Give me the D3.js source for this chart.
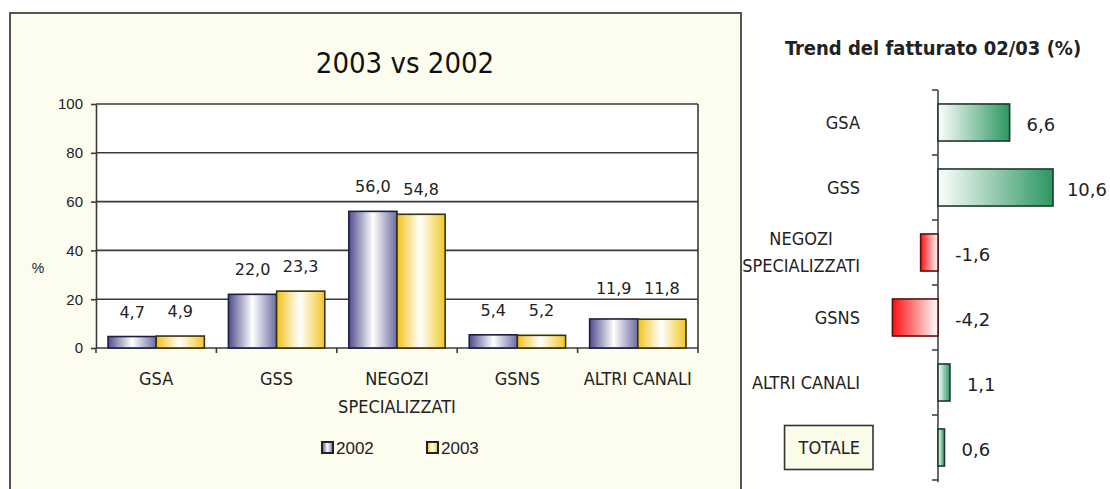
<!DOCTYPE html>
<html>
<head>
<meta charset="utf-8">
<script src="https://cdn.jsdelivr.net/npm/d3@7"></script>
<style>
  html, body { margin: 0; padding: 0; background: #ffffff; }
  svg { display: block; }
</style>
</head>
<body>
<div id="chart"></div>
<script>
// ---- Data
const categories = ['GSA', 'GSS', 'NEGOZI\nSPECIALIZZATI', 'GSNS', 'ALTRI CANALI'];
const years = ['2002', '2003'];
const share2002 = [4.7, 22.0, 56.0, 5.4, 11.9];
const share2003 = [4.9, 23.3, 54.8, 5.2, 11.8];
const yTicks = [0, 20, 40, 60, 80, 100];

const trendCategories = ['GSA', 'GSS', 'NEGOZI\nSPECIALIZZATI', 'GSNS', 'ALTRI CANALI', 'TOTALE'];
const trendValues = [6.6, 10.6, -1.6, -4.2, 1.1, 0.6];

const leftTitle = '2003 vs 2002';
const rightTitle = 'Trend del fatturato 02/03 (%)';

// ---- Fonts
const TAHOMA = "'DejaVu Sans Condensed', 'DejaVu Sans', sans-serif";
const VERDANA = "'DejaVu Sans', sans-serif";
const ARIAL = "'Liberation Sans', Arial, sans-serif";

const fmt = v => v.toFixed(1).replace('.', ',');

const W = 1110, H = 489;
const svg = d3.select('#chart').append('svg')
    .attr('width', W).attr('height', H);

const defs = svg.append('defs');
function hGrad(id, stops) {
    const g = defs.append('linearGradient').attr('id', id)
        .attr('x1', '0%').attr('x2', '100%').attr('y1', '0%').attr('y2', '0%');
    stops.forEach(([o, c]) => g.append('stop').attr('offset', o).attr('stop-color', c));
}
hGrad('g2002', [['0%', '#4e4e8c'], ['50%', '#ffffff'], ['100%', '#6c6ca4']]);
hGrad('g2003', [['0%', '#f2c21e'], ['48%', '#ffffff'], ['100%', '#f2c628']]);
hGrad('gPos', [['0%', '#ffffff'], ['100%', '#2b9660']]);
hGrad('gNeg', [['0%', '#ff1010'], ['100%', '#ffffff']]);

const yearFill = { '2002': 'url(#g2002)', '2003': 'url(#g2003)' };
const yearStroke = { '2002': '#1c1c44', '2003': '#3a3208' };

// ======================= Left panel =======================
svg.append('rect')
    .attr('x', 10).attr('y', 13).attr('width', 731).attr('height', H + 10)
    .attr('fill', '#fdfdef').attr('stroke', '#555').attr('stroke-width', 2);

svg.append('text')
    .attr('x', 405).attr('y', 73)
    .attr('text-anchor', 'middle')
    .style('font-family', TAHOMA).style('font-size', '29px').attr('fill', '#111')
    .text(leftTitle);

const plot = { left: 96, right: 698, top: 104, bottom: 348 };

const x0 = d3.scaleBand().domain(categories).range([plot.left, plot.right]).padding(0);
const x1 = d3.scaleBand().domain(years).range([0, x0.bandwidth()]).paddingInner(0).paddingOuter(0.25);
const y = d3.scaleLinear().domain([0, 100]).range([plot.bottom, plot.top]);

svg.append('rect')
    .attr('x', plot.left).attr('y', plot.top)
    .attr('width', plot.right - plot.left).attr('height', plot.bottom - plot.top)
    .attr('fill', '#ffffff');

// gridlines
const gridValues = yTicks.filter(t => t > 0);
svg.append('g').selectAll('line').data(gridValues).join('line')
    .attr('x1', plot.left).attr('x2', plot.right)
    .attr('y1', d => y(d)).attr('y2', d => y(d))
    .attr('stroke', '#3a3a3a').attr('stroke-width', 1.6);
svg.append('line')
    .attr('x1', plot.right).attr('x2', plot.right)
    .attr('y1', plot.top).attr('y2', plot.bottom)
    .attr('stroke', '#3a3a3a').attr('stroke-width', 1.6);

// y axis
const yAxis = svg.append('g')
    .attr('transform', `translate(${plot.left},0)`)
    .call(d3.axisLeft(y).tickValues(yTicks).tickSize(5).tickSizeOuter(0).tickPadding(8));
yAxis.select('.domain').attr('stroke', '#3a3a3a').attr('stroke-width', 1.6);
yAxis.selectAll('.tick line').attr('stroke', '#3a3a3a').attr('stroke-width', 1.6);
yAxis.selectAll('.tick text')
    .style('font-family', ARIAL).style('font-size', '15px').attr('fill', '#222');

svg.append('text')
    .attr('x', 38).attr('y', 273).attr('text-anchor', 'middle')
    .style('font-family', ARIAL).style('font-size', '14px').attr('fill', '#222')
    .text('%');

// x axis (ticks on category boundaries)
const boundaries = categories.map(c => x0(c)).concat([plot.right]);
svg.append('line')
    .attr('x1', plot.left).attr('x2', plot.right)
    .attr('y1', plot.bottom).attr('y2', plot.bottom)
    .attr('stroke', '#3a3a3a').attr('stroke-width', 1.6);
svg.append('g').selectAll('line').data(boundaries).join('line')
    .attr('x1', d => d).attr('x2', d => d)
    .attr('y1', plot.bottom).attr('y2', plot.bottom + 5)
    .attr('stroke', '#3a3a3a').attr('stroke-width', 1.6);

// bars
const rows = categories.map((c, i) => ({ cat: c, values: [
    { year: '2002', v: share2002[i] },
    { year: '2003', v: share2003[i] }
] }));

const groups = svg.append('g').selectAll('g').data(rows).join('g')
    .attr('transform', d => `translate(${x0(d.cat)},0)`);

groups.selectAll('rect').data(d => d.values).join('rect')
    .attr('x', d => x1(d.year))
    .attr('y', d => y(d.v))
    .attr('width', x1.bandwidth())
    .attr('height', d => plot.bottom - y(d.v))
    .attr('fill', d => yearFill[d.year])
    .attr('stroke', d => yearStroke[d.year])
    .attr('stroke-width', 1.6);

// value label baseline: above the bar, lifted clear of a gridline it would cross
function labelBaseline(v) {
    let b = y(v) - 19;
    gridValues.forEach(g => {
        const gy = y(g);
        if (gy > b - 13 && gy < b + 4) b = gy - 5;
    });
    return b;
}

groups.selectAll('text.val').data(d => d.values).join('text')
    .attr('class', 'val')
    .attr('x', d => x1(d.year) + x1.bandwidth() / 2)
    .attr('y', d => labelBaseline(d.v))
    .attr('text-anchor', 'middle')
    .style('font-family', VERDANA).style('font-size', '16px').attr('fill', '#222')
    .text(d => fmt(d.v));

// category labels
groups.each(function (d) {
    const t = d3.select(this).append('text')
        .attr('text-anchor', 'middle')
        .style('font-family', TAHOMA).style('font-size', '18px').attr('fill', '#222');
    d.cat.split('\n').forEach((line, k) => {
        t.append('tspan')
            .attr('x', x0.bandwidth() / 2)
            .attr('y', 385 + k * 28)
            .text(line);
    });
});

// legend
const legend = svg.append('g').selectAll('g').data(years).join('g')
    .attr('transform', (d, i) => `translate(${322 + i * 105},442)`);
legend.append('rect')
    .attr('width', 11).attr('height', 11)
    .attr('fill', d => yearFill[d])
    .attr('stroke', '#222').attr('stroke-width', 2);
legend.append('text')
    .attr('x', 14).attr('y', 11.5)
    .style('font-family', ARIAL).style('font-size', '17px').attr('fill', '#222')
    .text(d => d);

// ======================= Right panel =======================
svg.append('text')
    .attr('x', 933).attr('y', 55)
    .attr('text-anchor', 'middle')
    .style('font-family', TAHOMA).style('font-size', '20px').style('font-weight', 'bold')
    .attr('fill', '#222')
    .text(rightTitle);

const ty = d3.scaleBand().domain(trendCategories).range([90, 480])
    .paddingInner(0.43).paddingOuter(0.215);
const tx = d3.scaleLinear().domain([-5, 11]).range([938 - 5 * 10.85, 938 + 11 * 10.85]);
const step = ty.step();

// axis
const tAxis = svg.append('g');
tAxis.append('line')
    .attr('x1', tx(0)).attr('x2', tx(0)).attr('y1', 90).attr('y2', 482)
    .attr('stroke', '#444').attr('stroke-width', 1.6);
tAxis.selectAll('line.tk').data(d3.range(trendCategories.length + 1)).join('line')
    .attr('class', 'tk')
    .attr('x1', tx(0) - 6).attr('x2', tx(0))
    .attr('y1', i => 90 + i * step).attr('y2', i => 90 + i * step)
    .attr('stroke', '#444').attr('stroke-width', 1.6);

const trendRows = trendCategories.map((c, i) => ({ cat: c, v: trendValues[i] }));

svg.append('g').selectAll('rect').data(trendRows).join('rect')
    .attr('x', d => tx(Math.min(0, d.v)))
    .attr('y', d => ty(d.cat))
    .attr('width', d => Math.abs(tx(d.v) - tx(0)))
    .attr('height', ty.bandwidth())
    .attr('fill', d => d.v >= 0 ? 'url(#gPos)' : 'url(#gNeg)')
    .attr('stroke', d => d.v >= 0 ? '#1e3a28' : '#5a1010')
    .attr('stroke-width', 1.6);

svg.append('g').selectAll('text').data(trendRows).join('text')
    .attr('y', d => ty(d.cat) + ty.bandwidth() / 2 + 2)
    .attr('dy', '0.36em')
    .style('font-family', VERDANA).style('font-size', '18px').attr('fill', '#222')
    .text(d => fmt(d.v))
    .attr('x', function (d) {
        const w = this.getComputedTextLength();
        return Math.min(tx(Math.max(0, d.v)) + 17, 1107 - w);
    });

// category labels (right aligned, multi-line centered on widest line)
const labelRight = 860;
trendRows.forEach(d => {
    const lines = d.cat.split('\n');
    const cy = ty(d.cat) + ty.bandwidth() / 2;
    const t = svg.append('text')
        .attr('text-anchor', 'middle')
        .style('font-family', TAHOMA).style('font-size', '18px').attr('fill', '#222');
    const spans = lines.map((line, k) => t.append('tspan')
        .attr('y', cy + 6 + (k - (lines.length - 1) / 2) * 27)
        .text(line));
    const widest = d3.max(spans, s => s.node().getComputedTextLength());
    spans.forEach(s => s.attr('x', labelRight - widest / 2));

    if (d.cat === 'TOTALE') {
        const bb = t.node().getBBox();
        svg.insert('rect', () => t.node())
            .attr('x', bb.x - 13).attr('y', cy - 22)
            .attr('width', bb.width + 26).attr('height', 44)
            .attr('fill', '#fbfbea').attr('stroke', '#333').attr('stroke-width', 1.6);
    }
});
</script>
</body>
</html>
